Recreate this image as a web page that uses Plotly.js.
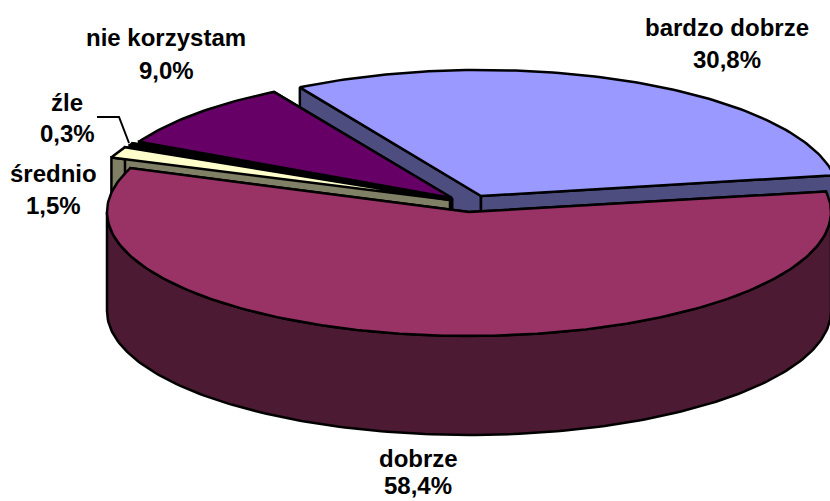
<!DOCTYPE html>
<html><head><meta charset="utf-8">
<script src="https://cdn.plot.ly/plotly-3.0.1.min.js"></script>
<style>html,body{margin:0;padding:0;background:#fff}#c{width:830px;height:501px}</style>
</head><body><div id="c"></div>
<script>
var categories = ['bardzo dobrze','dobrze','średnio','źle','nie korzystam'];
var shares = [30.8,58.4,1.5,0.3,9.0];
var shareLabels = ['30,8%','58,4%','1,5%','0,3%','9,0%'];
var topColors = ['#9999FF','#993366','#FFFFCC','#000000','#660066'];
var wallColors = ['#4D4D80','#4D1A33','#808066','#000000','#330033'];

var startAngle = 329.6, depth = 99;
// projected pie geometry per slice (exploded centres and ellipse radii)
var geom = [
  {cx:481,cy:196,a:358,b:126},
  {cx:469,cy:212,a:362,b:124},
  {cx:450,cy:200,a:362,b:120},
  {cx:451,cy:199,a:358,b:122},
  {cx:452,cy:198,a:352,b:123}
];
var labelPos = [[727,27,59],[418,458,485],[53,173,205],[67,102,133],[166,37,70]];

function pt(g,t,dz){var r=t*Math.PI/180;return [g.cx+g.a*Math.sin(r), g.cy-g.b*Math.cos(r)+(dz||0)];}
function poly(pts,fill){
  var xs=pts.map(function(p){return p[0]}), ys=pts.map(function(p){return p[1]});
  xs.push(xs[0]); ys.push(ys[0]);
  return {type:'scatter',mode:'lines',x:xs,y:ys,fill:'toself',fillcolor:fill,
          line:{color:'#000',width:2.5,shape:'linear'},hoverinfo:'skip',showlegend:false};
}
function arc(g,t0,t1,dz){var o=[],n=Math.max(2,Math.ceil(Math.abs(t1-t0)));
  for(var i=0;i<=n;i++){o.push(pt(g,t0+(t1-t0)*i/n,dz));} return o;}

var spans=[],acc=startAngle;
shares.forEach(function(v){var s=acc,e=acc+v*3.6;spans.push([s,e]);acc=e;});

function sliceTraces(i){
  var g=geom[i],s=spans[i][0],e=spans[i][1],tr=[];
  var c=[g.cx,g.cy],c2=[g.cx,g.cy+depth];
  var ps=pt(g,s),pe=pt(g,e);
  // cut faces
  tr.push(poly([c,ps,[ps[0],ps[1]+depth],c2],wallColors[i]));
  tr.push(poly([c,pe,[pe[0],pe[1]+depth],c2],wallColors[i]));
  // visible front part of the rim
  for(var k=0;k<2;k++){
    var lo=Math.max(s,90+360*k),hi=Math.min(e,270+360*k);
    if(hi>lo){tr.push(poly(arc(g,lo,hi,0).concat(arc(g,hi,lo,depth)),wallColors[i]));}
  }
  tr.push(poly([c].concat(arc(g,s,e,0)),topColors[i]));
  return tr;
}
var order=[0,4,3,2,1], data=[];
order.forEach(function(i){data=data.concat(sliceTraces(i));});

var annotations=[];
categories.forEach(function(name,i){
  var p=labelPos[i];
  [[name,p[1]],[shareLabels[i],p[2]]].forEach(function(a){
    annotations.push({xref:'x',yref:'y',x:p[0],y:a[1],text:'<b>'+a[0]+'</b>',showarrow:false,
      xanchor:'center',yanchor:'middle',font:{family:'"Liberation Sans",Arial,sans-serif',size:24,color:'#000'}});
  });
});

var layout={width:830,height:501,margin:{l:0,r:0,t:0,b:0},paper_bgcolor:'#fff',plot_bgcolor:'#fff',
  xaxis:{range:[0,830],visible:false,fixedrange:true},
  yaxis:{range:[501,0],visible:false,fixedrange:true},
  showlegend:false,annotations:annotations,
  shapes:[{type:'path',xref:'x',yref:'y',path:'M97,117 L119,117 L129,143',line:{color:'#000',width:2}}]};
Plotly.newPlot('c',data,layout,{displayModeBar:false,staticPlot:true});
</script></body></html>
